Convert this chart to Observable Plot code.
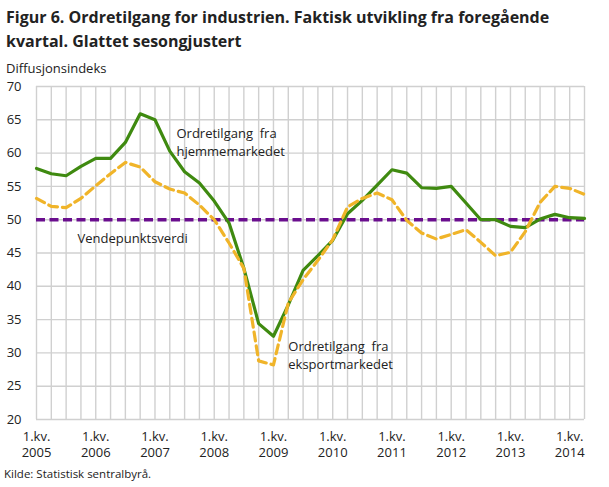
<!DOCTYPE html>
<html><head><meta charset="utf-8">
<script src="https://cdn.jsdelivr.net/npm/d3@7"></script>
<script src="https://cdn.jsdelivr.net/npm/@observablehq/plot@0.6"></script>
<style>
body{margin:0;background:#fff;font-family:"Open Sans",sans-serif;color:#222;}
#wrap{position:relative;width:609px;height:487px;overflow:hidden}
#title{position:absolute;left:6px;top:5px;font-size:16px;font-weight:700;line-height:24px;}
#sub{position:absolute;left:6px;top:59px;font-size:13px;z-index:2}
#chart{position:absolute;left:0;top:76px}
#cap{position:absolute;left:4px;top:466px;font-size:11.5px}
</style></head>
<body><div id="wrap">
<div id="title">Figur 6. Ordretilgang for industrien. Faktisk utvikling fra foregående<br>kvartal. Glattet sesongjustert</div>
<div id="sub">Diffusjonsindeks</div>
<div id="chart"></div>
<div id="cap">Kilde: Statistisk sentralbyrå.</div>
</div>
<script>
const years = [2005,2006,2007,2008,2009,2010,2011,2012,2013,2014];
const quarters = [];
for (const y of years) for (let q = 1; q <= 4; q++) if (!(y === 2014 && q > 2)) quarters.push(y + "K" + q);

const hjemme = [57.7,56.9,56.6,58.0,59.2,59.2,61.6,65.9,65.0,60.3,57.2,55.5,52.8,49.5,42.7,34.4,32.5,37.2,42.4,44.6,46.9,50.9,52.9,55.2,57.5,57.0,54.8,54.7,55.0,52.5,50.0,50.0,49.0,48.8,50.1,50.8,50.3,50.2];
const eksport = [53.2,52.0,51.8,53.2,55.1,56.9,58.6,57.9,55.7,54.6,54.0,52.2,50.0,46.5,42.7,28.8,28.2,37.5,41.0,43.9,47.0,51.9,53.2,54.0,53.0,49.9,48.0,47.1,47.8,48.5,46.6,44.6,45.1,48.2,52.6,55.0,54.7,53.8];
const vendepunkt = 50;
const yTicks = [20,25,30,35,40,45,50,55,60,65,70];
const labels = [
  {i: 9.45, y: 61.75, text: "Ordretilgang  fra\nhjemmemarkedet"},
  {i: 2.77, y: 47.35, text: "Vendepunktsverdi"},
  {i: 17.0, y: 29.8, text: "Ordretilgang  fra\neksportmarkedet"}
];

const idx = quarters.map((q, i) => i);
const rowsH = quarters.map((q, i) => ({i, v: hjemme[i]}));
const rowsE = quarters.map((q, i) => ({i, v: eksport[i]}));
const yearTicks = idx.filter(i => quarters[i].endsWith("K1"));
const gridColor = "#d0d0d0";

const chart = Plot.plot({
  width: 609, height: 384,
  marginTop: 10, marginBottom: 41, marginLeft: 36, marginRight: 25,
  style: {background: "transparent", fontFamily: "Open Sans", fontSize: "13px", color: "#222"},
  x: {type: "linear", domain: [0, quarters.length - 1]},
  y: {domain: [20, 70]},
  marks: [
    Plot.ruleY(yTicks, {stroke: gridColor, strokeWidth: 1.4}),
    Plot.ruleX(idx, {stroke: gridColor, strokeWidth: 1.4}),
    Plot.axisY(yTicks, {tickSize: 0, tickPadding: 15, fontSize: 13, label: null}),
    Plot.axisX(yearTicks, {tickSize: 0, tickPadding: 9, fontSize: 13, lineHeight: 1.3, label: null, tickFormat: i => "1.kv.\n" + quarters[i].slice(0, 4)}),
    Plot.ruleY([vendepunkt], {stroke: "#6a0e8e", strokeWidth: 3.5, strokeDasharray: "9,4.5"}),
    Plot.line(rowsH, {x: "i", y: "v", stroke: "#3f8a10", strokeWidth: 3.2}),
    Plot.line(rowsE, {x: "i", y: "v", stroke: "#f0b429", strokeWidth: 3.2, strokeDasharray: "9,5"}),
    Plot.text(labels, {x: "i", y: "y", text: "text", textAnchor: "start", fontSize: 13, lineHeight: 1.38, fill: "#222"})
  ]
});
document.getElementById("chart").append(chart);
</script>
</body></html>
